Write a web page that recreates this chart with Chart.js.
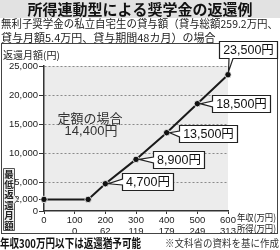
<!DOCTYPE html>
<html><head><meta charset="utf-8">
<script src="https://cdn.jsdelivr.net/npm/chart.js@4/dist/chart.umd.min.js"></script>
<style>html,body{margin:0;padding:0;background:#fff;}canvas{display:block;}</style>
</head><body>
<canvas id="c" width="280" height="250"></canvas>
<script>
// ---- data ----
const annualIncome = [0, 144, 200, 300, 400, 500, 600];      // 年収(万円)
const monthlyRepay = [2000, 2000, 4700, 8900, 13500, 18500, 23500]; // 返還月額(円)
const xTicks = [0, 100, 200, 300, 400, 500, 600];
const incomeAfterDeduction = [null, 0, 62, 119, 179, 249, 313]; // 所得(万円)
const yTicks = [0, 2000, 5000, 10000, 15000, 20000, 25000];
const labelledPoints = [2, 3, 4, 5, 6];
const flatAmount = 14400;

const title = '所得連動型による奨学金の返還例';
const subtitle1 = '無利子奨学金の私立自宅生の貸与額（貸与総額259.2万円、';
const subtitle2 = '貸与月額5.4万円、貸与期間48カ月）の場合';
const yTitle = '返還月額(円)';
const minLabel = '最低返還月額';
const xUnit1 = '年収(万円)';
const xUnit2 = '所得(万円)';
const footLeft = '年収300万円以下は返還猶予可能';
const footRight = '※文科省の資料を基に作成';

const NUM = "'Liberation Sans','Noto Sans CJK JP',sans-serif";
const JP = "'Noto Sans CJK JP',sans-serif";
const fmt = v => v.toLocaleString('en-US');

// callout placement (style): box-left offset from dot, box-centre offset
const calloutStyle = {
  2: {dx: 17, dy: -2, side: 'left'},
  3: {dx: 17, dy: 0, side: 'left'},
  4: {dx: 12, dy: 1, side: 'left'},
  5: {dx: 15, dy: 0, side: 'left'},
  6: {dx: -9, dy: -17, side: 'bottom'}
};

const deco = {
  id: 'deco',
  beforeDraw(chart) {
    const {ctx, chartArea: a} = chart;
    ctx.save();
    ctx.fillStyle = '#ececec';
    ctx.fillRect(a.left, a.top, a.right - a.left, a.bottom - a.top);
    ctx.restore();
  },
  afterDraw(chart) {
    const ctx = chart.ctx;
    const xs = chart.scales.x, ys = chart.scales.y;
    ctx.save();
    // title band
    ctx.fillStyle = '#e2e2e2';
    ctx.fillRect(0, 0, 280, 18);
    ctx.fillStyle = '#111';
    ctx.font = "bold 15px " + JP;
    ctx.textAlign = 'center'; ctx.textBaseline = 'middle';
    ctx.fillText(title, 140, 9.5, 276);
    // subtitle
    ctx.fillStyle = '#222';
    ctx.font = "11px " + JP;
    ctx.textAlign = 'left';
    ctx.fillText(subtitle1, 1, 24, 277);
    ctx.fillText(subtitle2, 1, 37.5, 277);
    // outer frame
    ctx.strokeStyle = '#444'; ctx.lineWidth = 1;
    ctx.strokeRect(1.5, 43.5, 276, 190);
    // y title
    ctx.fillStyle = '#222';
    ctx.font = "10px " + JP;
    ctx.fillText(yTitle, 3, 55);
    // flat amount text
    ctx.font = "13px " + JP;
    ctx.textAlign = 'center';
    ctx.fillStyle = '#333';
    ctx.fillText('定額の場合', 90, 118);
    ctx.font = "13px " + NUM;
    ctx.fillText(fmt(flatAmount) + '円', 91, 131);
    // min label box
    ctx.fillStyle = '#f2f2f2';
    ctx.strokeStyle = '#555';
    ctx.beginPath();
    const y2000 = ys.getPixelForValue(2000);
    ctx.moveTo(3.5, 168.5); ctx.lineTo(14.5, 168.5); ctx.lineTo(14.5, y2000 - 4);
    ctx.lineTo(18, y2000); ctx.lineTo(14.5, y2000 + 4);
    ctx.lineTo(14.5, 230.5); ctx.lineTo(3.5, 230.5); ctx.closePath();
    ctx.fill(); ctx.stroke();
    ctx.fillStyle = '#222';
    ctx.font = "bold 9.5px " + JP;
    ctx.textAlign = 'center';
    [...minLabel].forEach((ch, i) => ctx.fillText(ch, 9, 174 + i * 10.3));
    // x unit labels
    ctx.textAlign = 'left';
    ctx.font = "9.5px " + JP;
    const xr = xs.getPixelForValue(600);
    ctx.fillText(xUnit1, xr + 9, 217.5, 276 - xr - 9);
    ctx.fillText(xUnit2, xr + 9, 228.5, 276 - xr - 9);
    // callouts
    labelledPoints.forEach(i => {
      const px = xs.getPixelForValue(annualIncome[i]);
      const py = ys.getPixelForValue(monthlyRepay[i]);
      const st = calloutStyle[i];
      const txt = fmt(monthlyRepay[i]) + '円';
      ctx.font = "12.5px " + NUM;
      const tw = ctx.measureText(txt).width;
      const bw = Math.round(tw + 7), bh = 17;
      const bx = Math.round(px + st.dx) + 0.5;
      let by;
      ctx.beginPath();
      if (st.side === 'left') {
        by = Math.round(py + st.dy - bh / 2) + 0.5;
        const cy = by + bh / 2;
        ctx.moveTo(bx, by); ctx.lineTo(bx + bw, by); ctx.lineTo(bx + bw, by + bh);
        ctx.lineTo(bx, by + bh); ctx.lineTo(bx, cy + 3); ctx.lineTo(px + 3, py);
        ctx.lineTo(bx, cy - 3); ctx.closePath();
      } else {
        by = Math.round(py + st.dy - bh) + 0.5;
        ctx.moveTo(bx, by); ctx.lineTo(bx + bw, by); ctx.lineTo(bx + bw, by + bh);
        ctx.lineTo(px + 5, by + bh); ctx.lineTo(px + 0.5, py - 3); ctx.lineTo(px + 1, by + bh);
        ctx.lineTo(bx, by + bh); ctx.closePath();
      }
      ctx.fillStyle = '#fff'; ctx.fill();
      ctx.strokeStyle = '#222'; ctx.lineWidth = 1.2; ctx.stroke();
      ctx.fillStyle = '#111';
      ctx.textAlign = 'center'; ctx.textBaseline = 'middle';
      ctx.fillText(txt, bx + bw / 2, by + bh / 2 + 0.5);
    });
    // footer
    ctx.textAlign = 'left'; ctx.textBaseline = 'middle';
    ctx.fillStyle = '#111';
    ctx.font = "bold 12px " + JP;
    ctx.fillText(footLeft, 0, 243, 141);
    ctx.fillStyle = '#333';
    ctx.font = "10px " + JP;
    ctx.textAlign = 'right';
    ctx.fillText(footRight, 279, 243, 114);
    ctx.restore();
  }
};

new Chart(document.getElementById('c'), {
  type: 'line',
  data: {
    datasets: [{
      data: annualIncome.map((x, i) => ({x, y: monthlyRepay[i]})),
      borderColor: '#1a1a1a', borderWidth: 2,
      pointRadius: 3.2, pointBackgroundColor: '#111',
      pointBorderColor: '#fff', pointBorderWidth: 0.8,
      tension: 0, clip: false
    }]
  },
  options: {
    responsive: false, animation: false, devicePixelRatio: 1,
    layout: {padding: {top: 66, right: 52, left: 0, bottom: 0}},
    plugins: {legend: {display: false}, tooltip: {enabled: false}},
    scales: {
      x: {
        type: 'linear', min: 0, max: 600,
        afterBuildTicks: s => { s.ticks = xTicks.map(v => ({value: v})); },
        afterFit: s => { s.height = 39; },
        grid: {drawOnChartArea: false, tickLength: 3, tickColor: '#333'},
        border: {color: '#333', width: 1.5},
        ticks: {
          padding: 1, maxRotation: 0, autoSkip: false, color: '#222',
          font: {family: NUM, size: 9.5, lineHeight: 1.15},
          callback: (v) => {
            const k = xTicks.indexOf(v);
            const s = incomeAfterDeduction[k];
            return [String(v), s === null ? '' : String(s)];
          }
        }
      },
      y: {
        min: 0, max: 25000,
        afterBuildTicks: s => { s.ticks = yTicks.map(v => ({value: v})); },
        afterFit: s => { s.width = 44; },
        grid: {
          color: c => (c.tick && c.tick.value >= 5000) ? '#8a8a8a' : 'rgba(0,0,0,0)',
          tickColor: '#333', tickLength: 5, lineWidth: 1
        },
        border: {color: '#333', width: 1.5, dash: [2, 2]},
        ticks: {padding: 1, color: '#222', font: {family: NUM, size: 9.5}}
      }
    }
  },
  plugins: [deco]
});
</script>
</body></html>
